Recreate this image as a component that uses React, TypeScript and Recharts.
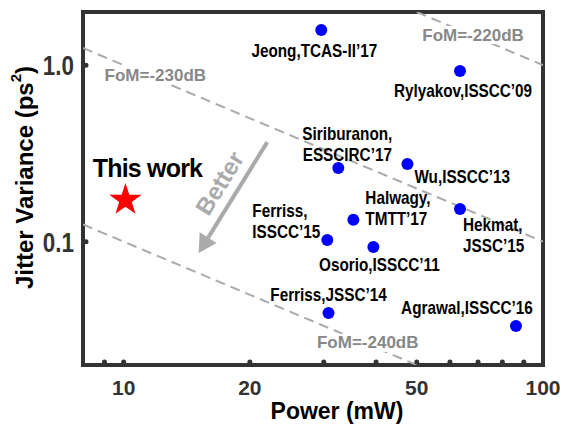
import React from 'react';
import { ScatterChart, Scatter, XAxis, YAxis, ReferenceLine, ReferenceArea, ReferenceDot, Label } from 'recharts';

// published PLLs: power (mW) vs integrated jitter variance (ps^2)
const refNames = [
  'Jeong,TCAS-II’17',
  'Rylyakov,ISSCC’09',
  'Siriburanon,\nESSCIRC’17',
  'Wu,ISSCC’13',
  'Halwagy,\nTMTT’17',
  'Hekmat,\nJSSC’15',
  'Ferriss,\nISSCC’15',
  'Osorio,ISSCC’11',
  'Ferriss,JSSC’14',
  'Agrawal,ISSCC’16',
];
const refPower = [29.6, 63.4, 32.5, 47.5, 35.3, 63.4, 30.6, 39.4, 30.8, 86.2];
const refJitter = [1.58, 0.927, 0.261, 0.275, 0.133, 0.153, 0.102, 0.0933, 0.0394, 0.0333];

const thisWorkPower = [10.1];
const thisWorkJitter = [0.172];

// FoM = -240 + 10log10(jitter * power) iso-lines, clipped to the plot
const fomNames = ['FoM=-220dB', 'FoM=-230dB', 'FoM=-240dB'];
const fomX1 = [50, 8, 8];
const fomY1 = [2, 1.25, 0.125];
const fomX2 = [100, 100, 50];
const fomY2 = [1, 0.1, 0.02];
const fomLabelX = [68.1, 11.9, 38.2];
const fomLabelY = [1.48, 0.879, 0.0267];

const betterFrom = { x: 22.0, y: 0.366 };
const betterTo = { x: 15.1, y: 0.0863 };

const xTicks = [9, 10, 20, 30, 40, 50, 60, 70, 80, 90, 100];
const xTickLabels = [10, 20, 50, 100];
const yTicks = [0.1, 1];
const yTickLabels = ['0.1', '1.0'];

const refData = refNames.map((name, i) => ({ name, power: refPower[i], jitter: refJitter[i] }));
const thisWorkData = thisWorkPower.map((p, i) => ({ name: 'This work', power: p, jitter: thisWorkJitter[i] }));

const SANS = "'Liberation Sans', Arial, sans-serif";
const AXIS = '#333';
const DASH = '#aaa';

const LABEL_LAYOUT: Record<string, { dx: number; dy: number; anchor: 'start' | 'middle' | 'end' }> = {
  'Jeong,TCAS-II’17': { dx: -7, dy: 20, anchor: 'middle' },
  'Rylyakov,ISSCC’09': { dx: 3, dy: 20, anchor: 'middle' },
  'Siriburanon,\nESSCIRC’17': { dx: 9, dy: -35, anchor: 'middle' },
  'Wu,ISSCC’13': { dx: 7, dy: 12, anchor: 'start' },
  'Halwagy,\nTMTT’17': { dx: 12, dy: -22, anchor: 'start' },
  'Hekmat,\nJSSC’15': { dx: 3, dy: 16, anchor: 'start' },
  'Ferriss,\nISSCC’15': { dx: -75, dy: -30, anchor: 'start' },
  'Osorio,ISSCC’11': { dx: 6, dy: 18, anchor: 'middle' },
  'Ferriss,JSSC’14': { dx: 0, dy: -18, anchor: 'middle' },
  'Agrawal,ISSCC’16': { dx: -49, dy: -18, anchor: 'middle' },
};

// bold text squeezed horizontally, like the condensed face of the original
function Narrow({ x, y, lines, size, sx, anchor, fill = '#000', lh = 21 }: any) {
  return (
    <text transform={`translate(${x} ${y}) scale(${sx} 1)`} textAnchor={anchor} dominantBaseline="central"
      fontFamily={SANS} fontWeight="bold" fontSize={size} fill={fill}>
      {lines.map((l: string, i: number) => (
        <tspan key={i} x={0} dy={i === 0 ? 0 : lh}>{l}</tspan>
      ))}
    </text>
  );
}

function RefDot(props: any) {
  const { cx, cy, payload } = props;
  const lay = LABEL_LAYOUT[payload.name];
  return (
    <g>
      <circle cx={cx} cy={cy} r={6} fill="#0000ff" />
      <Narrow x={cx + lay.dx} y={cy + lay.dy} lines={payload.name.split('\n')} size={18} sx={0.85} anchor={lay.anchor} />
    </g>
  );
}

function Star(props: any) {
  const { cx, cy } = props;
  const pts = [];
  for (let i = 0; i < 10; i++) {
    const r = i % 2 === 0 ? 17 : 6.6;
    const a = (-90 + i * 36) * Math.PI / 180;
    pts.push(`${cx + r * Math.cos(a)},${cy + r * Math.sin(a)}`);
  }
  return (
    <g>
      <polygon points={pts.join(' ')} fill="#ff0000" />
      <text x={cx + 22} y={cy - 32} textAnchor="middle" dominantBaseline="central"
        fontFamily={SANS} fontWeight="bold" fontSize={25} letterSpacing={-0.8} fill="#000">This work</text>
    </g>
  );
}

function BetterArrow(props: any) {
  const { x1, y1, x2, y2 } = props;
  const len = Math.hypot(x2 - x1, y2 - y1);
  const ux = (x2 - x1) / len;
  const uy = (y2 - y1) / len;
  const head = 18;
  const bx = x2 - ux * head;
  const by = y2 - uy * head;
  const nx = -uy;
  const ny = ux;
  const t = 0.46 * len;
  const tx = x1 + ux * t + nx * 19;
  const ty = y1 + uy * t + ny * 19;
  const ang = Math.atan2(y1 - y2, x1 - x2) * 180 / Math.PI;
  return (
    <g>
      <line x1={x1} y1={y1} x2={bx} y2={by} stroke={DASH} strokeWidth={4} />
      <polygon points={`${x2},${y2} ${bx + nx * 10},${by + ny * 10} ${bx - nx * 10},${by - ny * 10}`} fill={DASH} />
      <text x={tx} y={ty} transform={`rotate(${ang} ${tx} ${ty})`} textAnchor="middle" dominantBaseline="central"
        fontFamily={SANS} fontWeight="bold" fontSize={24} fill={DASH}>Better</text>
    </g>
  );
}

function FomText(props: any) {
  const { cx, cy, text } = props;
  return (
    <g>
      <rect x={cx - 52} y={cy - 9} width={104} height={18} fill="#fff" />
      <text x={cx} y={cy} textAnchor="middle" dominantBaseline="central"
        fontFamily={SANS} fontWeight="bold" fontSize={17} fill="#888">{text}</text>
    </g>
  );
}

function XTick(props: any) {
  const { x, y, payload } = props;
  const v = payload.value;
  return (
    <g>
      {v < 100 && <circle cx={x} cy={y - 3} r={2.5} fill={AXIS} />}
      {xTickLabels.includes(v) && (
        <text x={x} y={y + 22} textAnchor="middle" dominantBaseline="central"
          fontFamily={SANS} fontWeight="bold" fontSize={21} fill={AXIS}>{v}</text>
      )}
    </g>
  );
}

function YTick(props: any) {
  const { x, y, payload } = props;
  const i = yTicks.indexOf(payload.value);
  return (
    <g>
      <circle cx={x + 3} cy={y} r={2.5} fill={AXIS} />
      <Narrow x={x - 9} y={y} lines={[yTickLabels[i]]} size={28} sx={0.8} anchor="end" fill={AXIS} />
    </g>
  );
}

export default function App() {
  return (
    <div style={{ position: 'absolute', left: 0, top: 0, width: 565, height: 434, background: '#fff' }}>
      <ScatterChart width={565} height={434} margin={{ top: 12, right: 22, bottom: 9, left: 23 }}>
        <XAxis dataKey="power" type="number" scale="log" domain={[8, 100]} allowDataOverflow
          ticks={xTicks} interval={0} tick={<XTick />} tickSize={0} tickMargin={0} axisLine={false} height={60}>
          <Label content={({ viewBox }: any) => (
            <text x={viewBox.x + viewBox.width / 2 + 24} y={viewBox.y + 46} textAnchor="middle" dominantBaseline="central"
              fontFamily={SANS} fontWeight="bold" fontSize={23} fill="#000">Power (mW)</text>
          )} />
        </XAxis>
        <YAxis dataKey="jitter" type="number" scale="log" domain={[0.02, 2]} allowDataOverflow
          ticks={yTicks} interval={0} tick={<YTick />} tickSize={0} tickMargin={0} axisLine={false} width={60}>
          <Label content={({ viewBox }: any) => {
            const cx = 24;
            const cy = viewBox.y + viewBox.height / 2 - 11;
            return (
              <text x={cx} y={cy} transform={`rotate(-90 ${cx} ${cy})`} textAnchor="middle" dominantBaseline="central"
                fontFamily={SANS} fontWeight="bold" fontSize={24} fill="#000">
                Jitter Variance (ps<tspan fontSize={15} dy={-9}>2</tspan><tspan dy={9}>)</tspan>
              </text>
            );
          }} />
        </YAxis>
        {fomNames.map((n, i) => (
          <ReferenceLine key={n} segment={[{ x: fomX1[i], y: fomY1[i] }, { x: fomX2[i], y: fomY2[i] }]}
            stroke={DASH} strokeWidth={2} strokeDasharray="10 6" ifOverflow="hidden" />
        ))}
        {fomNames.map((n, i) => (
          <ReferenceDot key={n + 'l'} x={fomLabelX[i]} y={fomLabelY[i]} ifOverflow="visible"
            shape={(p: any) => <FomText {...p} text={n} />} />
        ))}
        <ReferenceArea x1={8} x2={100} y1={0.02} y2={2} fill="none" stroke={AXIS} strokeWidth={4} ifOverflow="visible" />
        <ReferenceLine segment={[betterFrom, betterTo]} ifOverflow="visible" shape={(p: any) => <BetterArrow {...p} />} />
        <Scatter data={refData} shape={<RefDot />} isAnimationActive={false} />
        <Scatter data={thisWorkData} shape={<Star />} isAnimationActive={false} />
      </ScatterChart>
    </div>
  );
}
